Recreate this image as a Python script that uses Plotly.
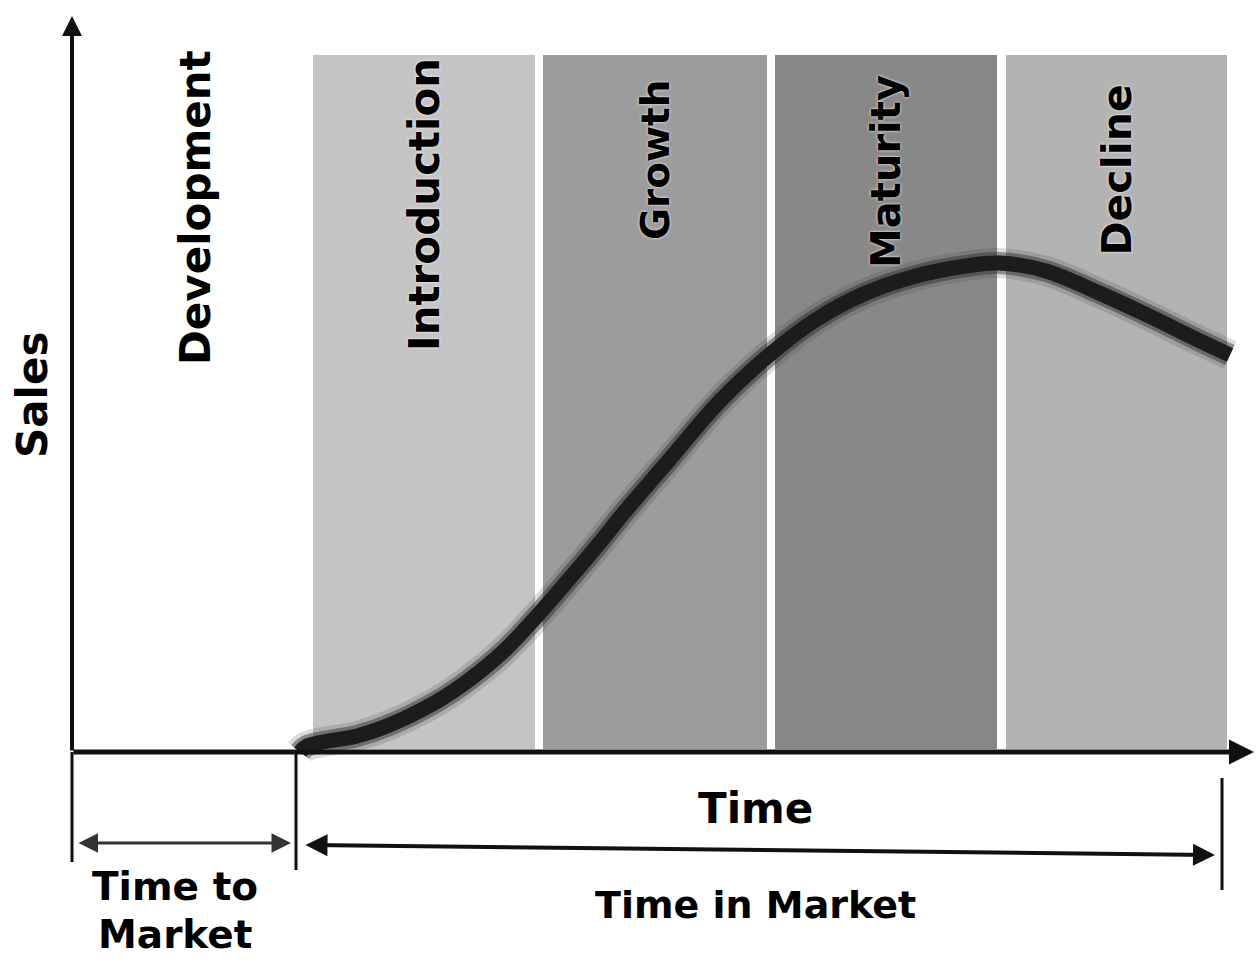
import plotly.graph_objects as go

# Product life cycle: sales over time (arbitrary units)
time_pts = [2.28, 2.35, 2.85, 3.15, 3.64, 3.97, 4.33, 4.65, 4.98, 5.30, 5.50, 5.98,
            6.47, 6.96, 7.45, 7.94, 8.44, 8.94, 9.27, 9.74, 10.25, 10.75, 11.26, 11.58]
sales_pts = [0.00, 0.06, 0.16, 0.26, 0.50, 0.72, 1.02, 1.36, 1.74, 2.12, 2.37, 2.93,
             3.50, 3.96, 4.33, 4.59, 4.76, 4.86, 4.89, 4.81, 4.60, 4.37, 4.12, 3.97]

# Life-cycle phases
phase_names = ["Introduction", "Growth", "Maturity", "Decline"]
phase_start = [2.41, 4.71, 7.03, 9.34]
phase_end = [4.63, 6.95, 9.25, 11.55]
phase_label_sales = [5.47, 5.92, 5.80, 5.82]
phase_label_size = [42, 39, 40, 41]
phase_colors = ["#c4c4c4", "#9c9c9c", "#888888", "#b3b3b3"]
phase_floor, phase_ceiling = 0.03, 6.97

launch_time = 2.24     # end of development / market entry
exit_time = 11.50      # end of time in market
time_axis_end = 11.82
sales_axis_end = 7.36

FONT = "DejaVu Sans, sans-serif"

fig = go.Figure()

# phase bands
shapes = []
for s, e, c in zip(phase_start, phase_end, phase_colors):
    shapes.append(dict(type="rect", xref="x", yref="y", x0=s, x1=e,
                       y0=phase_floor, y1=phase_ceiling, fillcolor=c,
                       line=dict(width=0), layer="below"))

# dimension ticks below the time axis
for x, y0, y1 in [(0.0, 0.0, -1.10), (launch_time, 0.0, -1.18), (exit_time, -0.26, -1.38)]:
    shapes.append(dict(type="line", xref="x", yref="y", x0=x, x1=x, y0=y0, y1=y1,
                       line=dict(color="#111111", width=3)))

# sales curve with a soft edge
for w, col in [(30, "rgba(60,60,60,0.18)"), (22, "rgba(40,40,40,0.45)"), (15, "#1c1c1c")]:
    fig.add_trace(go.Scatter(x=time_pts, y=sales_pts, mode="lines",
                             line=dict(color=col, width=w, shape="spline", smoothing=1.0),
                             hoverinfo="skip", showlegend=False))

annotations = []

# axes drawn as arrows
annotations.append(dict(x=time_axis_end, y=0, ax=0, ay=0, xref="x", yref="y",
                        axref="x", ayref="y", text="", showarrow=True,
                        arrowhead=2, arrowsize=1.0, arrowwidth=5, arrowcolor="#111111"))
annotations.append(dict(x=0, y=sales_axis_end, ax=0, ay=0, xref="x", yref="y",
                        axref="x", ayref="y", text="", showarrow=True,
                        arrowhead=2, arrowsize=1.0, arrowwidth=4, arrowcolor="#111111"))

# Time to Market / Time in Market spans
annotations.append(dict(x=launch_time - 0.05, y=-0.91, ax=0.05, ay=-0.91, xref="x", yref="y",
                        axref="x", ayref="y", text="", showarrow=True, arrowside="end+start",
                        arrowhead=2, arrowsize=1.3, arrowwidth=3, arrowcolor="#333333"))
annotations.append(dict(x=exit_time - 0.07, y=-1.03, ax=launch_time + 0.08, ay=-0.93,
                        xref="x", yref="y", axref="x", ayref="y", text="", showarrow=True,
                        arrowside="end+start", arrowhead=2, arrowsize=1.1, arrowwidth=4,
                        arrowcolor="#111111"))

def label(text, x, y, size=42, angle=0, shadow=None):
    f = dict(family=FONT, size=size, color="#000000", weight="bold")
    if shadow:
        f["shadow"] = shadow
    return dict(x=x, y=y, xref="x", yref="y", text=text, showarrow=False,
                textangle=angle, font=f, xanchor="center", yanchor="middle")

annotations.append(label("Sales", -0.40, 3.57, size=42, angle=-90))
annotations.append(label("Development", 1.23, 5.44, size=42, angle=-90))
for name, s, e, ys, sz in zip(phase_names, phase_start, phase_end,
                              phase_label_sales, phase_label_size):
    annotations.append(label(name, (s + e) / 2, ys, size=sz, angle=-90,
                             shadow="0px 0px 3px #ffffff"))
annotations.append(label("Time", 6.83, -0.56, size=42))
annotations.append(label("Time in Market", 6.83, -1.53, size=38))
annotations.append(label("Time to", 1.03, -1.34, size=39))
annotations.append(label("Market", 1.03, -1.82, size=39))

fig.update_layout(
    width=1256, height=961, autosize=False,
    margin=dict(l=0, r=0, t=0, b=0),
    paper_bgcolor="#ffffff", plot_bgcolor="#ffffff",
    xaxis=dict(range=[-0.72, 11.84], visible=False, fixedrange=True),
    yaxis=dict(range=[-2.09, 7.52], visible=False, fixedrange=True),
    shapes=shapes, annotations=annotations, showlegend=False,
)

fig.write_html("out.html")
